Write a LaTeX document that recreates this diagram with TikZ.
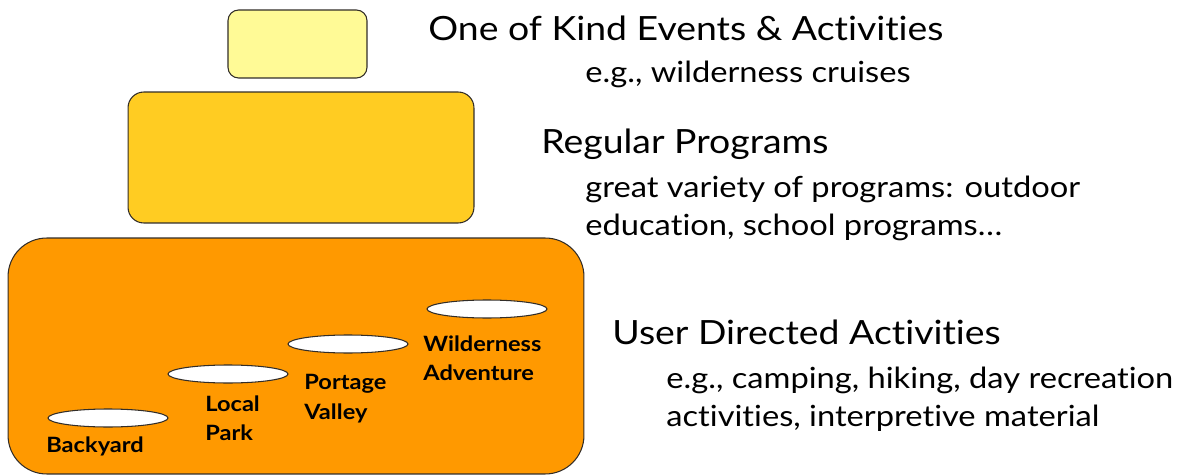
\documentclass[tikz,border=0pt]{standalone}
\usepackage{fontspec}
\setmainfont{Lato}[FakeStretch=1.12, Ligatures=NoCommon]
\usepackage{tikz}
\usetikzlibrary{shapes.geometric}

\definecolor{oneoff}{RGB}{255,250,150}
\definecolor{regular}{RGB}{255,204,34}
\definecolor{userdir}{RGB}{255,153,0}
\definecolor{edge}{RGB}{50,45,40}

\begin{document}
\begin{tikzpicture}[
  x=0.02cm, y=-0.02cm,
  tier/.style={draw=edge, line width=0.6pt, inner sep=0pt},
  spot/.style={draw=edge, fill=white, ellipse, line width=0.6pt, inner sep=0pt, minimum width=2.4cm, minimum height=0.36cm},
  place/.style={anchor=north west, align=left, inner sep=0pt, font=\fontsize{12}{17}\selectfont\bfseries},
  head/.style={anchor=north west, inner sep=0pt, font=\fontsize{19}{23}\selectfont},
  note/.style={anchor=north west, align=left, inner sep=0pt, font=\fontsize{16.6}{21.5}\selectfont}
]
\useasboundingbox[fill=white] (0,0) rectangle (1179,476);
% pyramid of program tiers
\node[tier, fill=oneoff, rounded corners=6pt, minimum width=2.78cm, minimum height=1.36cm] (one) at (297.5,44) {};
\node[tier, fill=regular, rounded corners=9pt, minimum width=6.92cm, minimum height=2.62cm] (reg) at (301,157.5) {};
\node[tier, fill=userdir, rounded corners=22pt, minimum width=11.52cm, minimum height=4.72cm] (usr) at (296,356) {};
% stepping stones
\node[spot] (back) at (108,418) {};
\node[spot] (park) at (228,374) {};
\node[spot] (port) at (348,344) {};
\node[spot] (wild) at (487,309) {};
\node[place] (backl) at (46,436) {Backyard};
\node[place] (parkl) at (205,395) {Local\\Park};
\node[place] (portl) at (304,374) {Portage\\Valley};
\node[place] (wildl) at (423,335) {Wilderness\\Adventure};
% descriptions
\node[head] (oneh) at (428,16) {One of Kind Events \& Activities};
\node[note] (onen) at (585,61) {e.g., wilderness cruises};
\node[head] (regh) at (541,129) {Regular Programs};
\node[note] (regn) at (585,176) {great variety of programs: outdoor\\education, school programs\dots};
\node[head] (usrh) at (612,320) {User Directed Activities};
\node[note] (usrn) at (666,367) {e.g., camping, hiking, day recreation\\activities, interpretive material};
\end{tikzpicture}
\end{document}
